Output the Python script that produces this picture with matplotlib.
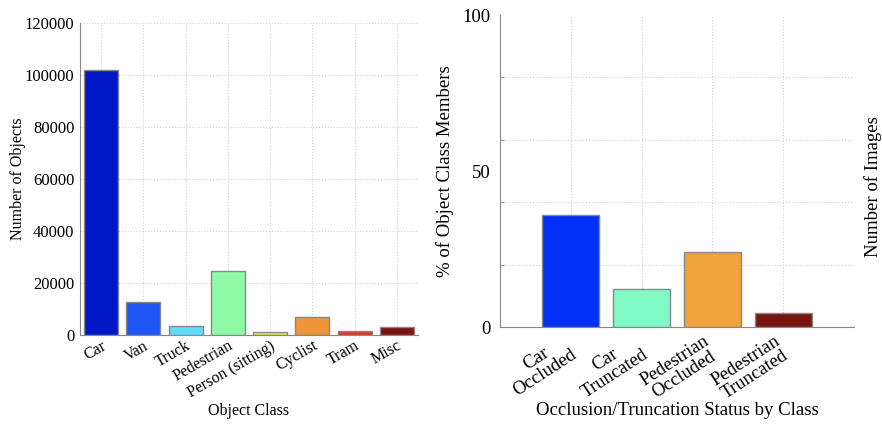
import matplotlib.pyplot as plt

plt.rcParams['font.family'] = ['Liberation Serif', 'DejaVu Serif']
plt.rcParams['font.size'] = 11.5

# object counts per class
classes = ["Car", "Van", "Truck", "Pedestrian", "Person (sitting)", "Cyclist", "Tram", "Misc"]
counts = [102000, 12600, 3400, 24600, 1100, 6900, 1500, 3000]
class_colors = ["#0019c4", "#1e56f5", "#60dcfa", "#8efaa6", "#e6ec3c", "#f0963a", "#e03424", "#7a1410"]

# occlusion / truncation share per class
status = ["Car\nOccluded", "Car\nTruncated", "Pedestrian\nOccluded", "Pedestrian\nTruncated"]
percent = [35.8, 12.1, 24.1, 4.4]
status_colors = ["#0030f5", "#80fac4", "#f2a23c", "#781410"]

fig = plt.figure(figsize=(8.82, 4.25), dpi=100)
W, H = 882, 425
grid_kw = dict(linestyle=":", color="#d0d0d0", linewidth=0.8)


def style(ax):
    for s in ["top", "right"]:
        ax.spines[s].set_visible(False)
    for s in ["left", "bottom"]:
        ax.spines[s].set_color("#888888")
    ax.set_axisbelow(True)


ax1 = fig.add_axes([80 / W, (H - 335) / H, (418 - 80) / W, (335 - 23) / H])
style(ax1)
ax1.grid(True, **grid_kw)
x1 = range(len(classes))
ax1.bar(x1, counts, width=0.8, color=class_colors, edgecolor="#888888", linewidth=1)
ax1.set_xlim(-0.5, len(classes) - 0.5)
ax1.set_ylim(0, 120000)
ax1.set_yticks(range(0, 120001, 20000))
ax1.set_xticks(list(x1))
ax1.set_xticklabels(classes, rotation=30, ha="right", rotation_mode="anchor", fontsize=11.5)
ax1.tick_params(axis="y", length=0, pad=4, labelsize=12)
ax1.tick_params(axis="x", length=0, pad=2)
ax1.set_ylabel("Number of Objects", fontsize=11.5, labelpad=-1)
ax1.set_xlabel("Object Class", fontsize=11.5, labelpad=2)

fs2 = 13.5
ax2 = fig.add_axes([500 / W, (H - 327) / H, (854 - 500) / W, (327 - 15) / H])
style(ax2)
x2 = range(len(status))
ax2.bar(x2, percent, width=0.8, color=status_colors, edgecolor="#888888", linewidth=1)
ax2.set_xlim(-1, len(status))
ax2.set_ylim(0, 100)
ax2.set_yticks([0, 50, 100])
ax2.set_yticks(range(0, 101, 20), minor=True)
ax2.grid(True, which="minor", axis="y", **grid_kw)
ax2.grid(True, which="major", axis="x", **grid_kw)
ax2.set_xticks(list(x2))
ax2.set_xticklabels(status, rotation=33, ha="right", va="center", rotation_mode="anchor",
                    multialignment="center", linespacing=1.0, fontsize=13.5)
ax2.tick_params(axis="y", which="major", length=0, pad=7, labelsize=fs2)
ax2.tick_params(axis="x", which="major", length=0, pad=14)
ax2.tick_params(axis="y", which="minor", length=3, direction="in", color="#888888")
ax2.set_ylabel("% of Object Class Members", fontsize=fs2, labelpad=6)
ax2.set_xlabel("Occlusion/Truncation Status by Class", fontsize=fs2)
ax2.xaxis.set_label_coords(0.5, (327 - 402) / 312)

fig.text(873 / W, (H - 187) / H, "Number of Images", rotation=90,
         ha="center", va="center", fontsize=fs2)

fig.savefig("out.png", dpi=100)
